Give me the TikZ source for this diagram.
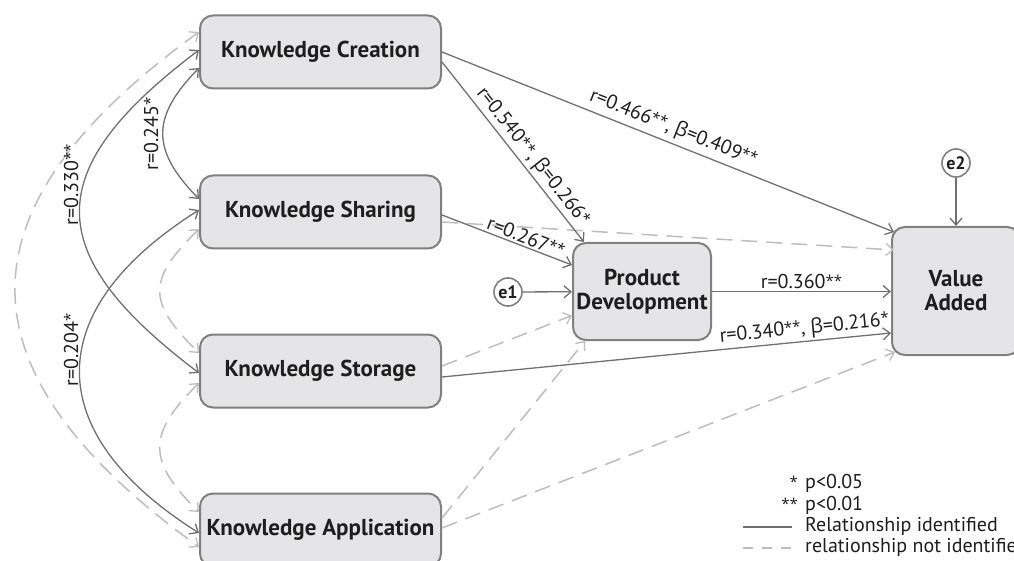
\documentclass[tikz,border=0pt]{standalone}
\usepackage{fontspec}
\setmainfont{PT Sans}
\newfontfamily\grk{Open Sans}
\usetikzlibrary{arrows.meta,calc}
\definecolor{boxfill}{HTML}{E5E5E7}
\definecolor{boxdraw}{HTML}{808080}
\definecolor{solidc}{HTML}{707070}
\definecolor{dashc}{HTML}{BDBDBD}
\definecolor{txt}{HTML}{1E1E1E}
\newcommand{\bet}{{\grk β}}
\newcommand{\st}{{\grk\fontsize{15}{15}\selectfont\raisebox{2.6pt}{*}}}
\begin{document}
\begin{tikzpicture}[x=1pt,y=-1pt,
  tip/.tip={Straight Barb[length=7pt,width=12pt,line width=1.3pt]},
  kbox/.style={draw=boxdraw, line width=2pt, fill=boxfill, rounded corners=13pt,
    minimum width=241pt, minimum height=73pt, inner sep=0pt,
    font=\fontsize{23}{24}\selectfont\bfseries, text=txt, align=center},
  ebox/.style={circle, draw=boxdraw, line width=1.6pt, fill=white, minimum size=28pt,
    inner sep=0pt, font=\fontsize{18}{18}\selectfont\bfseries, text=txt},
  rel/.style={draw=solidc, line width=1.3pt, -tip},
  relb/.style={draw=solidc, line width=1.3pt, tip-tip},
  nrel/.style={draw=dashc, line width=1.5pt, dash pattern=on 16pt off 9pt, -tip},
  nrelb/.style={draw=dashc, line width=1.5pt, dash pattern=on 16pt off 9pt, tip-tip},
  lab/.style={font=\fontsize{20}{22}\selectfont, text=txt, inner sep=2pt},
]
\useasboundingbox (0,0) rectangle (1014,561);
\clip (0,0) rectangle (1014,561);

% nodes
\node[kbox] (kc) at (320.5,52) {Knowledge Creation};
\node[kbox] (ks) at (320.5,212) {Knowledge Sharing};
\node[kbox] (kt) at (320.5,371) {Knowledge Storage};
\node[kbox] (ka) at (320.5,530) {Knowledge Application};
\node[kbox, minimum width=138pt, minimum height=97pt] (pd) at (642,291.5) {Product\\Development};
\node[kbox, minimum width=128pt, minimum height=128pt] (va) at (956,291) {Value\\Added};
\node[ebox] (e1) at (508,292) {e1};
\node[ebox] (e2) at (956,163) {e2};

% dashed straight
\draw[nrel] ($(ks.east)+(0,10)$) -- ($(va.west)+(3,-41)$);
\draw[nrel] ($(kt.east)+(0,-5)$) -- ($(pd.west)+(0,24)$);
\draw[nrel] ($(ka.east)+(0,-12)$) -- ($(pd.south west)+(13,0)$);
\draw[nrel] ($(ka.east)+(0,-2)$) -- ($(va.west)+(4,61)$);

% dashed arcs
\draw[nrelb] ($(kc.west)+(0,-20)$) .. controls (-46,209) and (-46,370) .. ($(ka.west)+(0,17)$);
\draw[nrelb] ($(ks.west)+(0,17)$) .. controls (147,280) and (147,302) .. ($(kt.west)+(0,-18)$);
\draw[nrelb] ($(kt.west)+(0,12)$) .. controls (147,434) and (147,461) .. ($(ka.west)+(0,-18)$);

% solid arcs
\draw[relb] ($(kc.west)+(0,16)$) .. controls (151,117) and (151,150) .. ($(ks.west)+(0,-13)$);
\draw[relb] ($(kc.west)+(0,-2)$) .. controls (40,170) and (40,253) .. ($(kt.west)+(0,2)$);
\draw[relb] ($(ks.west)+(0,-2)$) .. controls (40,310) and (40,433) .. ($(ka.west)+(0,3)$);
\node[lab, rotate=90] (l245) at (151,134) {r=0.245\st};
\node[lab, rotate=90] (l330) at (71,185) {r=0.330\st\st};
\node[lab, rotate=90] (l204) at (71,350) {r=0.204\st};

% solid straight
\draw[rel] (kc.east) -- node[lab, sloped, above=2pt, pos=0.5] {r=0.466\st\st, \bet=0.409\st\st} ($(va.west)+(3,-59)$);
\draw[rel] ($(kc.east)+(0,10)$) -- node[lab, sloped, above, pos=0.57] {r=0.540\st\st, \bet=0.266\st} ($(pd.north west)+(12,0)$);
\draw[rel] ($(ks.east)+(0,3)$) -- node[lab, sloped, above, pos=0.62] {r=0.267\st\st} ($(pd.west)+(0,-26.5)$);
\draw[rel] (pd.east) -- node[lab, above, pos=0.5] {r=0.360\st\st} (pd.east -| va.west);
\draw[rel] ($(kt.east)+(0,6)$) -- node[lab, sloped, above, pos=0.81] {r=0.340\st\st, \bet=0.216\st} ($(va.west)+(0,42)$);
\draw[rel] (e1) -- (pd);
\draw[rel] (e2) -- (va);

% legend
\node[lab, anchor=west] (lg1) at (803,483) {p<0.05};
\node[lab, anchor=east] (lg1s) at (800,483) {\st};
\node[lab, anchor=west] (lg2) at (803,505) {p<0.01};
\node[lab, anchor=east] (lg2s) at (800,505) {\st\st};
\node[lab, anchor=west] (lg3) at (803,526) {Relationship identified};
\node[lab, anchor=west] (lg4) at (803,547) {relationship not identified};
\coordinate (s3a) at (743,527);
\coordinate (s3b) at (792,527);
\coordinate (s4a) at (743,548);
\coordinate (s4b) at (792,548);
\draw[draw=solidc, line width=1.3pt] (s3a) -- (s3b);
\draw[draw=dashc, line width=1.5pt, dash pattern=on 10pt off 9pt] (s4a) -- (s4b);
\end{tikzpicture}
\end{document}
